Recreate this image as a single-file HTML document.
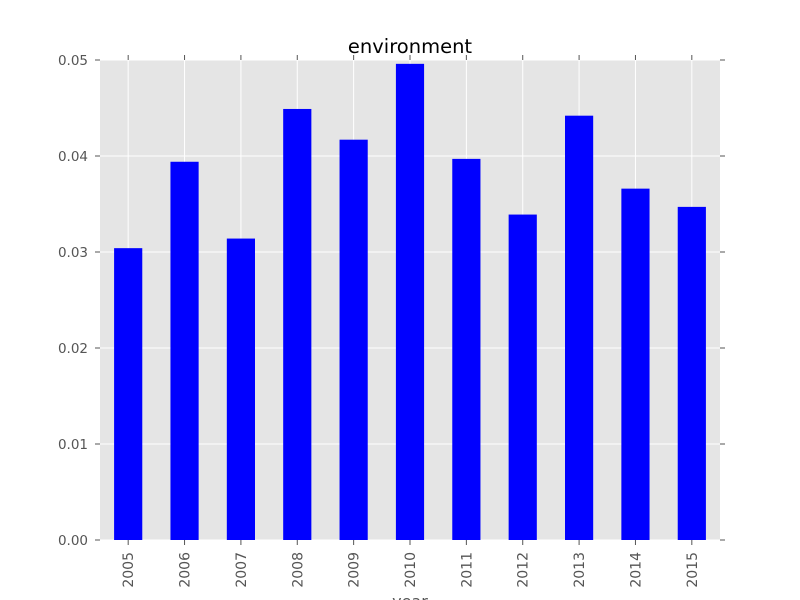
<!DOCTYPE html>
<html><head><meta charset="utf-8"><style>body{margin:0;background:#fff}svg{display:block}text{font-family:"DejaVu Sans","Liberation Sans",sans-serif}</style></head>
<body>
<svg id="chart" width="800" height="600"></svg>
<script>
const categories=["2005","2006","2007","2008","2009","2010","2011","2012","2013","2014","2015"];
const values=[0.0304,0.0394,0.0314,0.0449,0.0417,0.0496,0.0397,0.0339,0.0442,0.0366,0.0347];
const yTicks=[0,0.01,0.02,0.03,0.04,0.05];
const yTickLabels=["0.00","0.01","0.02","0.03","0.04","0.05"];
const L=100,R=720,T=60,B=540,yMax=0.05;
const svg=document.getElementById('chart');
const NS='http://www.w3.org/2000/svg';
function mk(t,a,p){const e=document.createElementNS(NS,t);for(const k in a)e.setAttribute(k,a[k]);(p||svg).appendChild(e);return e;}
const y=v=>B-(v/yMax)*(B-T);
const slot=(R-L)/categories.length;
const x=i=>L+slot*(i+0.5);
const bg=mk('rect',{x:L,y:T,width:R-L,height:B-T,fill:'#e5e5e5'});


yTicks.forEach((v,i)=>{
  const g=mk('line',{x1:L,x2:R,y1:y(v),y2:y(v),stroke:'#fff','stroke-width':1});
  
  
  mk('line',{x1:L-5,x2:L,y1:y(v),y2:y(v),stroke:'#555'});
  mk('line',{x1:R,x2:R+5,y1:y(v),y2:y(v),stroke:'#555'});
  const t=mk('text',{x:L-12,y:y(v)+5,'text-anchor':'end','font-size':13.5,fill:'#555'});
  t.textContent=yTickLabels[i];
  
  
});
categories.forEach((c,i)=>{
  const g=mk('line',{x1:x(i),x2:x(i),y1:T,y2:B,stroke:'#fff'});
  
  
});
categories.forEach((c,i)=>{
  const w=slot/2;
  const b=mk('rect',{x:x(i)-w/2,y:y(values[i]),width:w,height:B-y(values[i]),fill:'#0000ff'});
  
  
  mk('line',{x1:x(i),x2:x(i),y1:B,y2:B+5,stroke:'#555'});
  mk('line',{x1:x(i),x2:x(i),y1:T-5,y2:T,stroke:'#555'});
  const t=mk('text',{x:0,y:0,'text-anchor':'end','font-size':14,fill:'#555',transform:`translate(${x(i)+5},${B+12}) rotate(-90)`});
  t.textContent=c;
  
  
});
const title=mk('text',{x:410,y:53,'text-anchor':'middle','font-size':19.5,fill:'#000'});
title.textContent='environment';


const xl=mk('text',{x:410,y:607,'text-anchor':'middle','font-size':16,fill:'#555'});
xl.textContent='year';


</script>
</body></html>
